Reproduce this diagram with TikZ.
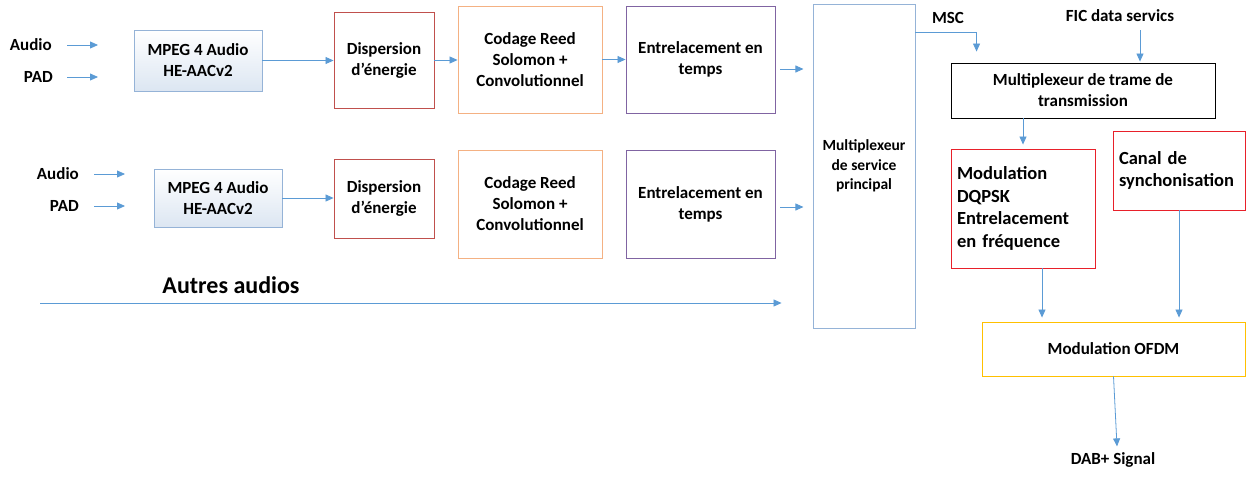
\documentclass[tikz,border=0pt]{standalone}
\usepackage{fontspec}
\setmainfont{Carlito}
\usetikzlibrary{arrows.meta,calc}
\definecolor{arrowblue}{HTML}{5B9BD5}
\definecolor{paleblue}{HTML}{95B3D7}
\definecolor{shadeblue}{HTML}{DCE6F2}
\definecolor{darkred}{HTML}{C0504D}
\definecolor{lightorange}{HTML}{F4B183}
\definecolor{violet}{HTML}{8064A2}
\definecolor{brightred}{HTML}{E8202A}
\definecolor{gold}{HTML}{FFC000}

\begin{document}
\begin{tikzpicture}[x=1pt,y=-1pt]
\tikzstyle{box}=[draw,line width=0.9pt,inner sep=0pt,align=center,font=\bfseries\fontsize{17}{21}\selectfont]
\tikzstyle{bigbox}=[box,align=left,font=\bfseries\fontsize{18.5}{22.5}\selectfont]
\tikzstyle{lbl}=[inner sep=0pt,font=\bfseries\fontsize{17}{20}\selectfont]
\tikzstyle{link}=[arrowblue,line width=0.8pt,-{Triangle[length=8pt,width=7pt]}]
% end of definitions
\useasboundingbox (0,0) rectangle (1247,479);
% first audio chain
\node[lbl,anchor=east] (audioA) at (52,45) {Audio};
\node[lbl,anchor=east] (padA) at (53,77) {PAD};
\node[box,draw=paleblue,top color=white,bottom color=shadeblue,minimum width=128,minimum height=61] (mpegA) at (198,60.5) {MPEG 4 Audio\\HE-AACv2};
\node[box,draw=darkred,minimum width=100,minimum height=96] (dispA) at (384,60) {Dispersion\\d’énergie};
\node[box,draw=lightorange,minimum width=144,minimum height=107] (codA) at (530,59.5) {Codage Reed\\Solomon +\\Convolutionnel};
\node[box,draw=violet,minimum width=149,minimum height=107] (entA) at (700.5,59.5) {Entrelacement en\\temps};
% second audio chain
\node[lbl,anchor=east] (audioB) at (79,174) {Audio};
\node[lbl,anchor=east] (padB) at (79,206) {PAD};
\node[box,draw=paleblue,top color=white,bottom color=shadeblue,minimum width=128,minimum height=58] (mpegB) at (218,198) {MPEG 4 Audio\\HE-AACv2};
\node[box,draw=darkred,minimum width=100,minimum height=79] (dispB) at (384,198.5) {Dispersion\\d’énergie};
\node[box,draw=lightorange,minimum width=144,minimum height=108] (codB) at (530,204) {Codage Reed\\Solomon +\\Convolutionnel};
\node[box,draw=violet,minimum width=149,minimum height=108] (entB) at (700.5,204) {Entrelacement en\\temps};
\node[lbl,font=\bfseries\fontsize{24}{26}\selectfont] (autres) at (231,285) {Autres audios};
\coordinate (autresin) at (40,303);
% multiplexing and transmission
\node[box,draw=paleblue,font=\bfseries\fontsize{15.5}{19.5}\selectfont,minimum width=102,minimum height=324] (mux) at (864,166) {Multiplexeur\\de service\\principal};
\node[lbl] (msc) at (948,18) {MSC};
\node[lbl] (fic) at (1120,16) {FIC data servics};
\node[box,draw=black,minimum width=264,minimum height=55] (trame) at (1083,90.5) {Multiplexeur de trame de\\transmission};
\node[bigbox,draw=brightred,text width=132,minimum width=144,minimum height=119] (dqpsk) at (1023,208.5) {Modulation\\DQPSK\\Entrelacement\\en fréquence};
\node[bigbox,draw=brightred,text width=120,minimum width=132,minimum height=79] (canal) at (1179,170.5) {Canal de\\synchonisation};
\node[box,draw=gold,minimum width=263,minimum height=54] (ofdm) at (1113.5,349) {Modulation OFDM};
\node[lbl] (dab) at (1113,460) {DAB+ Signal};
% connectors
\draw[link] ([xshift=15]audioA.east) -- ++(31,0);
\draw[link] ([xshift=14]padA.east) -- ++(31,0);
\draw[link] ([xshift=15]audioB.east) -- ++(31,0);
\draw[link] ([xshift=15]padB.east) -- ++(31,0);
\draw[link] (mpegA.east) -- (mpegA.east -| dispA.west);
\draw[link] (mpegB.east) -- (mpegB.east -| dispB.west);
\draw[link] (dispA.east) -- (dispA.east -| codA.west);
\draw[link] (codA.east) -- (codA.east -| entA.west);
\draw[link] ($(entA.east)+(5,9.5)$) -- ++(23,0);
\draw[link] ($(entB.east)+(5,3)$) -- ++(23,0);
\draw[link,shorten >=31pt] (autresin) -- (autresin -| mux.west);
\draw[link] ($(mux.north east)+(0,29)$) -| ($(trame.north west)+(26,-11)$);
\draw[link] ($(fic.south)+(20,8)$) -- ($(trame.north)+(57,-1)$);
\draw[link] (trame.south -| dqpsk.north) -- ($(dqpsk.north)+(0,-4)$);
\draw[link] ($(dqpsk.south)+(19,0)$) -- ($(dqpsk.south |- ofdm.north)+(19,-4)$);
\draw[link] (canal.south) -- ($(canal.south |- ofdm.north)+(0,-4)$);
\draw[link] (ofdm.south) -- ($(dab.north)+(4,-6)$);
\end{tikzpicture}
\end{document}
